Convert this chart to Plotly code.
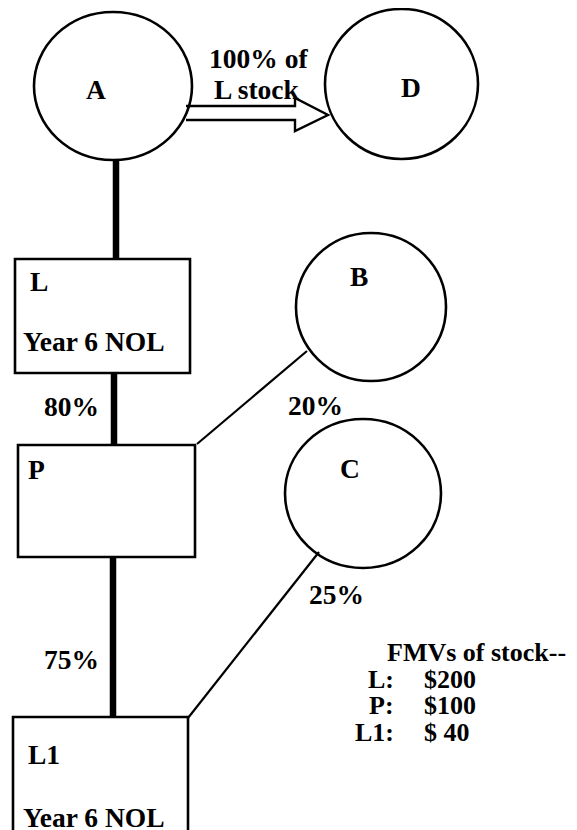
import plotly.graph_objects as go

# ---- data ----
circle_names = ["A", "D", "B", "C"]
box_names = ["L", "P", "L1"]
box_notes = ["Year 6 NOL", "", "Year 6 NOL"]
transfer_label = ["100% of", "L stock"]
ownership_pct = {"L->P": 80, "B->P": 20, "P->L1": 75, "C->L1": 25}
fmv_title = "FMVs of stock--"
fmv_names = ["L:", "P:", "L1:"]
fmv_values = [200, 100, 40]
fmv_text = ["$200", "$100", "$ 40"]

# ---- layout geometry (pixels, y downward) ----
circ_geom = {"A": (34, 12, 192, 160), "D": (325, 9, 478, 159),
             "B": (296, 233, 446, 381), "C": (285, 419, 441, 568)}
circ_label = {"A": (96, 89), "D": (411, 87), "B": (359, 276), "C": (350, 468)}
box_geom = {"L": (15, 259, 190, 373), "P": (18, 445, 195, 557), "L1": (13, 717, 188, 845)}
box_label = {"L": (28, 281), "P": (26, 469), "L1": (26, 754)}
box_note_pos = {"L": (21, 341), "L1": (21, 817)}

FONT = dict(family="Liberation Serif, Times New Roman, serif", size=27.5, color="black", weight="bold")
FONT_FMV = dict(FONT, size=26)

# page body has an 8px margin; shift the visible data window to compensate
OFF = 8

fig = go.Figure()
fig.add_trace(go.Scatter(x=[OFF, 577], y=[OFF, 830], mode="markers", marker=dict(opacity=0),
                         hoverinfo="skip", showlegend=False))

shapes = []
for n in circle_names:
    x0, y0, x1, y1 = circ_geom[n]
    shapes.append(dict(type="circle", x0=x0, y0=y0, x1=x1, y1=y1, line=dict(color="black", width=2.6)))
for n in box_names:
    x0, y0, x1, y1 = box_geom[n]
    shapes.append(dict(type="rect", x0=x0, y0=y0, x1=x1, y1=y1, line=dict(color="black", width=2.6)))

# thick ownership lines
thick = [(116, 160, 116, 259), (114, 373, 114, 445), (113, 557, 113, 717)]
for x0, y0, x1, y1 in thick:
    shapes.append(dict(type="line", x0=x0, y0=y0, x1=x1, y1=y1, line=dict(color="black", width=6.5)))
# thin minority lines
thin = [(307, 351, 197, 444), (319, 552, 188, 718)]
for x0, y0, x1, y1 in thin:
    shapes.append(dict(type="line", x0=x0, y0=y0, x1=x1, y1=y1, line=dict(color="black", width=2.2)))

# hollow block arrow A -> D
arrow = "M 186 106 L 295 106 L 295 98 L 328 115 L 295 131 L 295 120 L 186 120"
shapes.append(dict(type="path", path=arrow, line=dict(color="black", width=2.4)))

ann = []
def text(t, x, y, anchor="center", font=FONT):
    ann.append(dict(text=t, x=x, y=y, xref="x", yref="y", showarrow=False,
                    xanchor=anchor, yanchor="middle", font=font))

for n in circle_names:
    text(n, *circ_label[n])
for n, note in zip(box_names, box_notes):
    text(n, *box_label[n], anchor="left")
    if note:
        text(note, *box_note_pos[n], anchor="left")

text(transfer_label[0], 258, 58)
text(transfer_label[1], 257, 89)
text(f"{ownership_pct['L->P']}%", 71, 406)
text(f"{ownership_pct['B->P']}%", 315, 405)
text(f"{ownership_pct['P->L1']}%", 71, 659)
text(f"{ownership_pct['C->L1']}%", 336, 594)

text(fmv_title, 385, 652, anchor="left", font=FONT_FMV)
for i, (nm, tv) in enumerate(zip(fmv_names, fmv_text)):
    y = 679 + 26.5 * i
    text(nm, 396, y, anchor="right", font=FONT_FMV)
    text(tv, 422, y, anchor="left", font=FONT_FMV)

fig.update_layout(
    width=577, height=830, margin=dict(l=0, r=0, t=0, b=0),
    paper_bgcolor="white", plot_bgcolor="white",
    xaxis=dict(range=[OFF, 577 + OFF], visible=False, fixedrange=True),
    yaxis=dict(range=[830 + OFF, OFF], visible=False, fixedrange=True),
    shapes=shapes, annotations=ann, showlegend=False,
)
fig.write_html("out.html")
